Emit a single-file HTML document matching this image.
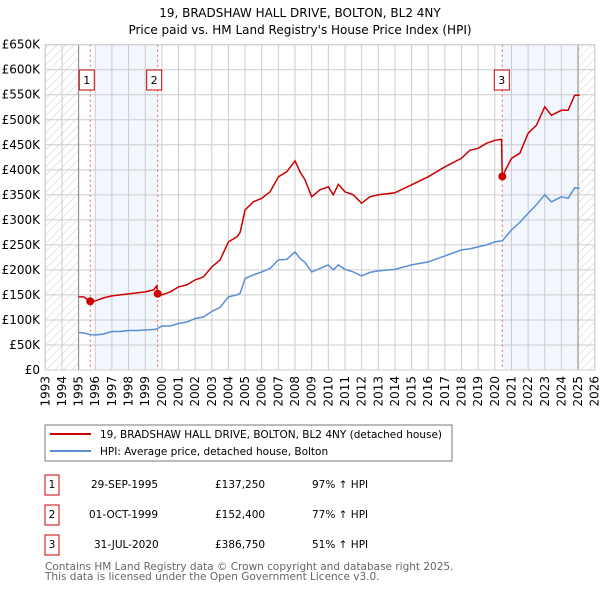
<!DOCTYPE html>
<html><head><meta charset="utf-8"><style>
body{margin:0;background:#fff;font-family:"DejaVu Sans",sans-serif;}
svg text{font-family:"DejaVu Sans",sans-serif;}
</style></head><body>
<svg id="c" width="600" height="590" xmlns="http://www.w3.org/2000/svg">
<defs><pattern id="h" width="6" height="6" patternUnits="userSpaceOnUse" patternTransform="rotate(45)"><line x1="0" y1="0" x2="0" y2="6" stroke="#ccc" stroke-width="1"/></pattern></defs>
<text x="300" y="17" text-anchor="middle" font-size="12">19, BRADSHAW HALL DRIVE, BOLTON, BL2 4NY</text>
<text x="300" y="34" text-anchor="middle" font-size="12">Price paid vs. HM Land Registry's House Price Index (HPI)</text>
<g id="plot"></g>
<rect x="45" y="425" width="407" height="36" fill="#fff" stroke="#777" stroke-width="1"/>
<line x1="50" y1="434" x2="91" y2="434" stroke="#cc0000" stroke-width="2"/>
<text x="100" y="438" font-size="10.5">19, BRADSHAW HALL DRIVE, BOLTON, BL2 4NY (detached house)</text>
<line x1="50" y1="451" x2="91" y2="451" stroke="#5b8fd4" stroke-width="2"/>
<text x="100" y="455" font-size="10.5">HPI: Average price, detached house, Bolton</text>
<g font-size="10.5">
<rect x="45" y="475" width="14" height="20" fill="#fff" stroke="#cc0000"/><text x="52" y="488" text-anchor="middle">1</text>
<text x="91" y="488">29-SEP-1995</text><text x="215" y="488">£137,250</text><text x="312" y="488">97% ↑ HPI</text>
<rect x="45" y="505" width="14" height="20" fill="#fff" stroke="#cc0000"/><text x="52" y="518" text-anchor="middle">2</text>
<text x="89" y="518">01-OCT-1999</text><text x="215" y="518">£152,400</text><text x="312" y="518">77% ↑ HPI</text>
<rect x="45" y="535" width="14" height="20" fill="#fff" stroke="#cc0000"/><text x="52" y="548" text-anchor="middle">3</text>
<text x="94" y="548">31-JUL-2020</text><text x="215" y="548">£386,750</text><text x="312" y="548">51% ↑ HPI</text>
</g>
<text x="45" y="570" font-size="10.5" fill="#666">Contains HM Land Registry data © Crown copyright and database right 2025.</text>
<text x="45" y="580" font-size="10.5" fill="#666">This data is licensed under the Open Government Licence v3.0.</text>
</svg>
<script>
const years=[1995.0,1995.3,1995.7,1996,1996.5,1997,1997.5,1998,1998.5,1999,1999.5,1999.7,1999.75,2000,2000.5,2001,2001.5,2002,2002.5,2003,2003.5,2004,2004.5,2004.7,2005,2005.5,2006,2006.5,2007,2007.5,2008,2008.3,2008.6,2009,2009.5,2010,2010.3,2010.6,2011,2011.5,2012,2012.5,2013,2014,2015,2016,2017,2018,2018.5,2019,2019.5,2020,2020.4,2020.45,2021,2021.5,2022,2022.5,2023,2023.4,2024,2024.4,2024.8,2025.1];
const hpi=[75,74,71,70,72,77,77,79,79,80,81,82,83,88,88,93,96,103,106,117,125,146,150,153,183,190,196,203,220,221,236,223,215,196,203,210,200,210,201,196,188,195,198,201,210,216,228,240,242,246,250,256,258,258,280,295,313,330,350,336,346,343,364,363];
const price=[146,146,137,138,144,148,150,152,154,156,160,168,150,150,156,166,170,180,186,206,220,256,266,275,320,336,343,356,386,396,418,396,380,346,360,366,350,371,356,350,333,346,350,354,370,386,406,423,439,443,453,459,461,387,423,433,473,489,526,509,519,519,549,549];
const yTicks=[0,50,100,150,200,250,300,350,400,450,500,550,600,650];
const xTicks=[1993,1994,1995,1996,1997,1998,1999,2000,2001,2002,2003,2004,2005,2006,2007,2008,2009,2010,2011,2012,2013,2014,2015,2016,2017,2018,2019,2020,2021,2022,2023,2024,2025,2026];
const saleYears=[1995.7,1999.75,2020.45];
const salePrices=[137.25,152.4,386.75];
const ns="http://www.w3.org/2000/svg";
const X0=45.3,X1=594.7,Y0=370,Y1=44.7;
const xs=v=>X0+(v-1993)/(2026-1993)*(X1-X0);
const ys=v=>Y0-v/650*(Y0-Y1);
const g=document.getElementById('plot');
function mk(t,a){const e=document.createElementNS(ns,t);for(const k in a)e.setAttribute(k,a[k]);g.appendChild(e);return e;}
let e;
e=mk('rect',{x:xs(1996),y:Y1,width:xs(1999.75)-xs(1996),height:Y0-Y1,fill:'#f2f6fd'});


e=mk('rect',{x:xs(2020.45),y:Y1,width:xs(2025)-xs(2020.45),height:Y0-Y1,fill:'#f2f6fd'});


e=mk('rect',{x:X0,y:Y1,width:xs(1995)-X0,height:Y0-Y1,fill:'url(#h)'});


e=mk('rect',{x:xs(2025),y:Y1,width:X1-xs(2025),height:Y0-Y1,fill:'url(#h)'});


yTicks.forEach(v=>{
 e=mk('line',{x1:X0,x2:X1,y1:ys(v),y2:ys(v),stroke:'#ccc','stroke-width':1});
 
 
 e=mk('text',{x:40,y:ys(v)+4,'text-anchor':'end','font-size':12});
 e.textContent=v===0?'£0':'£'+v+'K';
 
 
});
xTicks.forEach(v=>{
 e=mk('line',{x1:xs(v),x2:xs(v),y1:Y1,y2:Y0,stroke:'#ccc','stroke-width':1});
 
 
 e=mk('text',{x:0,y:0,'text-anchor':'end','font-size':12,transform:'translate('+(xs(v)+4)+','+(Y0+6)+') rotate(-90)'});
 e.textContent=v;
 
 
});
e=mk('line',{x1:xs(1995),x2:xs(1995),y1:Y1,y2:Y0,stroke:'#888'});


e=mk('line',{x1:xs(2025),x2:xs(2025),y1:Y1,y2:Y0,stroke:'#888'});


saleYears.forEach((s,i)=>{
 e=mk('line',{x1:xs(s),x2:xs(s),y1:Y1,y2:Y0,stroke:'#e06060','stroke-dasharray':'2,3'});
 
 
 e=mk('rect',{x:xs(s)-(i==2?8:11),y:70,width:15,height:20,fill:'#fff',stroke:'#cc0000'});
 
 
 e=mk('text',{x:xs(s)-(i==2?0.5:3.5),y:84,'text-anchor':'middle','font-size':11});
 e.textContent=String(i+1);
 
 
});
const pts=a=>years.map((y,i)=>xs(y).toFixed(1)+','+ys(a[i]).toFixed(1)).join(' ');
e=mk('polyline',{points:pts(hpi),fill:'none',stroke:'#5b8fd4','stroke-width':1.5});


e=mk('polyline',{points:pts(price),fill:'none',stroke:'#cc0000','stroke-width':1.5});


saleYears.forEach((s,i)=>{
 e=mk('circle',{cx:xs(s),cy:ys(salePrices[i]),r:4,fill:'#cc0000'});
 
 
});
e=mk('rect',{x:X0,y:Y1,width:X1-X0,height:Y0-Y1,fill:'none',stroke:'#ccc'});


</script>
</body></html>
